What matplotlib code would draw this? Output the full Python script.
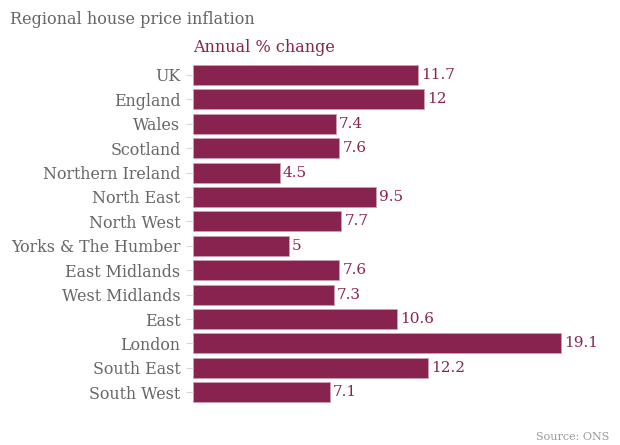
import matplotlib
matplotlib.use("Agg")
import matplotlib.pyplot as plt

regions = ["UK", "England", "Wales", "Scotland", "Northern Ireland", "North East",
           "North West", "Yorks & The Humber", "East Midlands", "West Midlands",
           "East", "London", "South East", "South West"]
change = [11.7, 12, 7.4, 7.6, 4.5, 9.5, 7.7, 5, 7.6, 7.3, 10.6, 19.1, 12.2, 7.1]
value_labels = ["11.7", "12", "7.4", "7.6", "4.5", "9.5", "7.7", "5", "7.6", "7.3",
                "10.6", "19.1", "12.2", "7.1"]

BAR = "#88234f"
GREY = "#666666"
plt.rcParams["font.family"] = ["DejaVu Serif"]

fig = plt.figure(figsize=(6.2, 4.45), dpi=100)
ax = fig.add_axes([193 / 620, 0.0912, 1 - 193 / 620, 0.7677])
y = list(range(len(regions)))
ax.barh(y, change, height=0.82, color=BAR, edgecolor="#c9a0b3", linewidth=0.6)
for yi, v, lab in zip(y, change, value_labels):
    ax.text(v + 0.15, yi, lab, color=BAR, fontsize=11, va="center", ha="left")
ax.set_ylim(len(regions) - 0.5, -0.5)
ax.set_xlim(0, 427 / 19.27)
ax.set_yticks(y)
ax.set_yticklabels(regions, fontsize=11.4, color=GREY)
ax.tick_params(axis="y", length=5, color="#d8d8d8", pad=4)
ax.set_xticks([])
for s in ax.spines.values():
    s.set_visible(False)

fig.text(10 / 620, 1 - 20 / 445, "Regional house price inflation", color=GREY,
         fontsize=11.5, va="center", ha="left")
fig.text(193 / 620, 1 - 48 / 445, "Annual % change", color=BAR,
         fontsize=11.5, va="center", ha="left")
fig.text(609 / 620, 1 - 437 / 445, "Source: ONS", color="#999999",
         fontsize=8, va="center", ha="right")

fig.savefig("out.png", dpi=100)
